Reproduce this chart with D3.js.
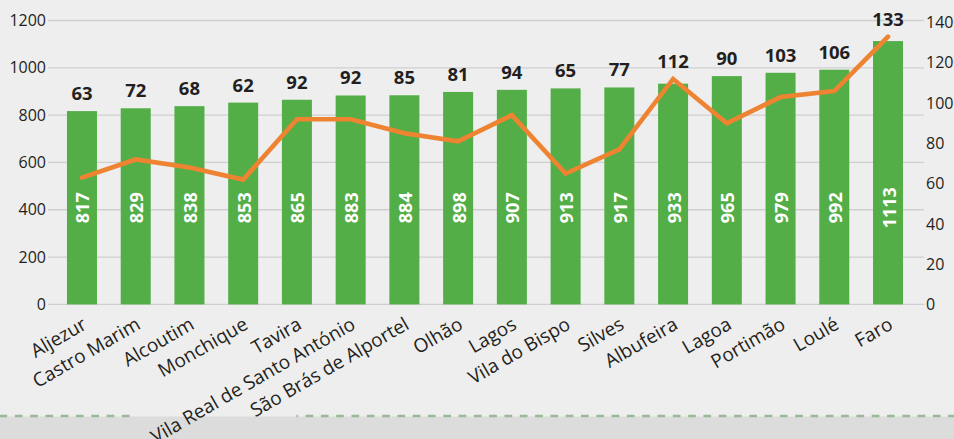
<!DOCTYPE html>
<html>
<head>
<meta charset="utf-8">
<script src="https://cdn.jsdelivr.net/npm/d3@7"></script>
<style>
  html, body { margin: 0; padding: 0; background: #eeeeee; }
  svg { display: block; font-family: "Open Sans", "Noto Sans", sans-serif; }
</style>
</head>
<body>
<svg id="chart" width="954" height="439"></svg>
<script>
const categories = ["Aljezur","Castro Marim","Alcoutim","Monchique","Tavira","Vila Real de Santo António","São Brás de Alportel","Olhão","Lagos","Vila do Bispo","Silves","Albufeira","Lagoa","Portimão","Loulé","Faro"];
const barValues = [817,829,838,853,865,883,884,898,907,913,917,933,965,979,992,1113];
const lineValues = [63,72,68,62,92,92,85,81,94,65,77,112,90,103,106,133];
const leftTicks = [0,200,400,600,800,1000,1200];
const rightTicks = [0,20,40,60,80,100,120,140];

const W = 954, H = 439;
const svg = d3.select("#chart");
const textColor = "#231f20";

// background + bottom band
svg.append("rect").attr("width", W).attr("height", H).attr("fill", "#eeeeee");
svg.append("rect").attr("x", 0).attr("y", 416.5).attr("width", W).attr("height", H - 416.5).attr("fill", "#dcdcdc");
const dash = svg.append("g").attr("stroke", "#9cb89a").attr("stroke-width", 2.7).attr("stroke-dasharray", "7.7 7.6");
dash.append("line").attr("x1", -0.5).attr("x2", 130).attr("y1", 416).attr("y2", 416);
dash.append("line").attr("x1", 296.5).attr("x2", W).attr("y1", 416).attr("y2", 416).attr("stroke-dashoffset", 296.9 - 15.3 * Math.floor(296.9 / 15.3));

const x = d3.scaleBand().domain(categories).range([55.1, 914.9]).paddingInner(0.4417).paddingOuter(0.2208);
const yL = d3.scaleLinear().domain([0, 1200]).range([304.4, 20.5]);
const yR = d3.scaleLinear().domain([0, 140]).range([304.4, 22.6]);

const gridX0 = 48, gridX1 = 924;

// gridlines
svg.append("g").selectAll("line").data(leftTicks).join("line")
  .attr("x1", gridX0).attr("x2", gridX1)
  .attr("y1", d => yL(d)).attr("y2", d => yL(d))
  .attr("stroke", "#cfcfcf").attr("stroke-width", 1.3);

// left axis
const leftAxis = svg.append("g").attr("transform", `translate(${gridX0},0)`)
  .call(d3.axisLeft(yL).tickValues(leftTicks).tickSize(0).tickPadding(2).tickFormat(d3.format("d")));
leftAxis.select(".domain").remove();
leftAxis.selectAll("text").attr("font-size", 16).attr("fill", textColor).attr("font-family", "'Open Sans', sans-serif");

// right axis
const rightAxis = svg.append("g").attr("transform", `translate(${gridX1},0)`)
  .call(d3.axisRight(yR).tickValues(rightTicks).tickSize(0).tickPadding(2).tickFormat(d3.format("d")));
rightAxis.select(".domain").remove();
rightAxis.selectAll("text").attr("font-size", 16).attr("fill", textColor).attr("font-family", "'Open Sans', sans-serif");

// bars
svg.append("g").selectAll("rect").data(barValues).join("rect")
  .attr("x", (d, i) => x(categories[i]))
  .attr("width", x.bandwidth())
  .attr("y", d => yL(d))
  .attr("height", d => yL(0) - yL(d))
  .attr("fill", "#53ae47");

// in-bar labels
svg.append("g").selectAll("text").data(barValues).join("text")
  .attr("transform", (d, i) => `translate(${x(categories[i]) + x.bandwidth() / 2 + 1},${yL(400) - 2}) rotate(-90)`)
  .attr("text-anchor", "middle").attr("dy", "0.36em")
  .attr("font-size", 18).attr("font-weight", "bold").attr("fill", "#ffffff")
  .text(d => d);

// line
const line = d3.line()
  .x((d, i) => x(categories[i]) + x.bandwidth() / 2)
  .y(d => yR(d));
svg.append("path").datum(lineValues)
  .attr("d", line).attr("fill", "none")
  .attr("stroke", "#ee8332").attr("stroke-width", 4.6)
  .attr("stroke-linejoin", "miter").attr("stroke-linecap", "round");

// top labels (line values above bars)
svg.append("g").selectAll("text").data(lineValues).join("text")
  .attr("x", (d, i) => x(categories[i]) + x.bandwidth() / 2)
  .attr("y", (d, i) => Math.min(yL(barValues[i]), yR(d)) - 11)
  .attr("text-anchor", "middle")
  .attr("font-size", 18.5).attr("font-weight", "bold").attr("fill", textColor)
  .text(d => d);

// category labels
svg.append("g").selectAll("text").data(categories).join("text")
  .attr("transform", d => `translate(${x(d) + x.bandwidth() / 2 + 6},${328}) rotate(-30)`)
  .attr("text-anchor", "end")
  .attr("font-size", 19).attr("fill", textColor)
  .text(d => d);
</script>
</body>
</html>
